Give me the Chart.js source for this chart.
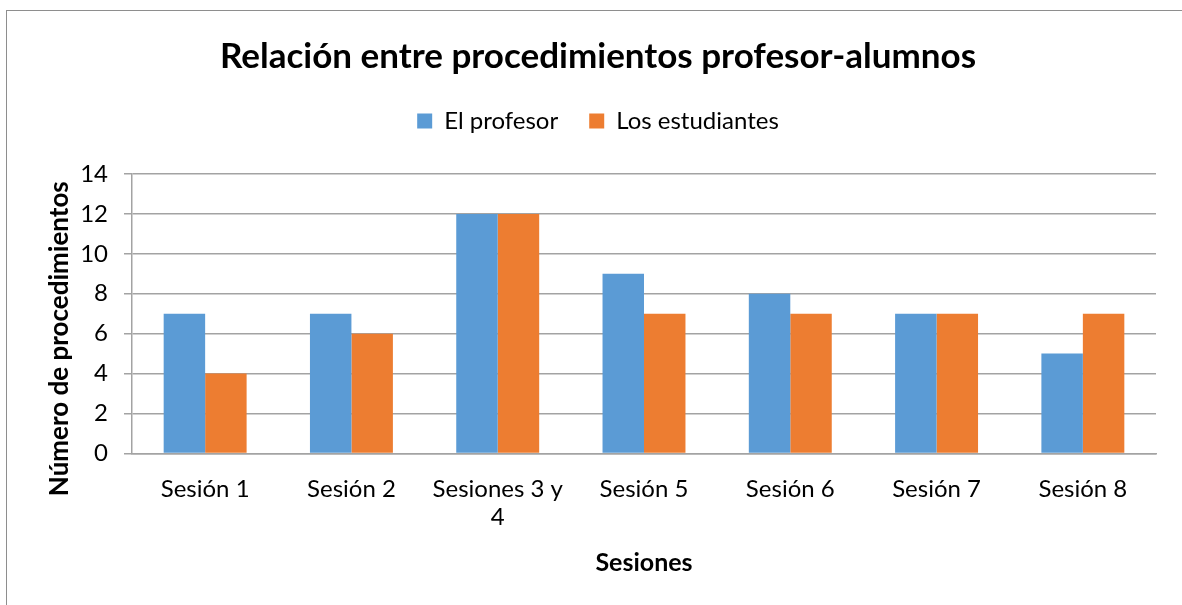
<!DOCTYPE html>
<html>
<head>
<meta charset="utf-8">
<script src="https://cdn.jsdelivr.net/npm/chart.js@4/dist/chart.umd.min.js"></script>
<style>
  html, body { margin: 0; padding: 0; background: #fff; overflow: hidden; }
  #wrap { position: relative; width: 1182px; height: 605px; }
  #frame { position: absolute; left: 6px; top: 10px; width: 1300px; height: 700px;
           border: 1px solid #8e8e8e; box-sizing: border-box; }
  canvas { position: absolute; left: 0; top: 0; }
</style>
</head>
<body>
<div id="wrap">
  <div id="frame"></div>
  <canvas id="c" width="1182" height="605"></canvas>
</div>
<script>
// Sessions on the x axis
const categories = ['Sesión 1', 'Sesión 2', ['Sesiones 3 y', '4'], 'Sesión 5', 'Sesión 6', 'Sesión 7', 'Sesión 8'];
// Procedures per session
const profesor = [7, 7, 12, 9, 8, 7, 5];
const estudiantes = [4, 6, 12, 7, 7, 7, 7];
// Value axis
const yMin = 0;
const yMax = 14;
const yStep = 2;

const FONT = 'Lato, Carlito, "Open Sans", sans-serif';
const GRID = '#a3a3a3';

// Y axis title drawn a little below the plot centre
const yTitlePlugin = {
  id: 'yTitle',
  afterDraw(chart, args, opts) {
    const { ctx, chartArea } = chart;
    ctx.save();
    ctx.translate(opts.x, (chartArea.top + chartArea.bottom) / 2 + opts.dy);
    ctx.rotate(-Math.PI / 2);
    ctx.font = 'bold ' + opts.size + 'px ' + FONT;
    ctx.fillStyle = '#000';
    ctx.textAlign = 'center';
    ctx.textBaseline = 'middle';
    ctx.fillText(opts.text, 0, 0);
    ctx.restore();
  }
};

// Extra space between the legend and the plot
const legendGapPlugin = {
  id: 'legendGap',
  beforeInit(chart) {
    const legend = chart.legend;
    if (!legend) return;
    const fit = legend.fit;
    legend.fit = function () {
      fit.call(this);
      this.height += 31;
    };
  }
};

new Chart(document.getElementById('c'), {
  type: 'bar',
  data: {
    labels: categories,
    datasets: [
      { label: 'El profesor', data: profesor, backgroundColor: '#5B9BD5', borderWidth: 0 },
      { label: 'Los estudiantes', data: estudiantes, backgroundColor: '#ED7D31', borderWidth: 0 }
    ]
  },
  options: {
    responsive: false,
    animation: false,
    devicePixelRatio: 1,
    layout: { padding: { left: 40, right: 26, top: 36, bottom: 27 } },
    datasets: { bar: { categoryPercentage: 0.567, barPercentage: 1.0 } },
    plugins: {
      title: {
        display: true,
        text: 'Relación entre procedimientos profesor-alumnos',
        color: '#000',
        font: { family: FONT, size: 35, weight: 'bold' },
        padding: { top: 0, bottom: 0 }
      },
      legend: {
        position: 'top',
        labels: {
          color: '#000',
          font: { family: FONT, size: 24 },
          boxWidth: 15,
          boxHeight: 15,
          padding: 31
        }
      },
      tooltip: { enabled: false },
      yTitle: { text: 'Número de procedimientos', x: 60, dy: 25, size: 26 }
    },
    scales: {
      x: {
        grid: { display: false },
        border: { display: true, color: GRID, width: 1.5 },
        ticks: { color: '#000', font: { family: FONT, size: 24 }, padding: 13, maxRotation: 0, autoSkip: false },
        title: { display: true, text: 'Sesiones', color: '#000', font: { family: FONT, size: 25, weight: 'bold' }, padding: { top: 3, bottom: 0 } }
      },
      y: {
        min: yMin,
        max: yMax,
        afterFit(scale) { scale.width = 92; },
        ticks: { stepSize: yStep, color: '#000', font: { family: FONT, size: 24 }, padding: 16 },
        grid: { color: GRID, lineWidth: 1.5, tickLength: 8 },
        border: { display: true, color: GRID, width: 1.5 }
      }
    }
  },
  plugins: [yTitlePlugin, legendGapPlugin]
});
</script>
</body>
</html>
